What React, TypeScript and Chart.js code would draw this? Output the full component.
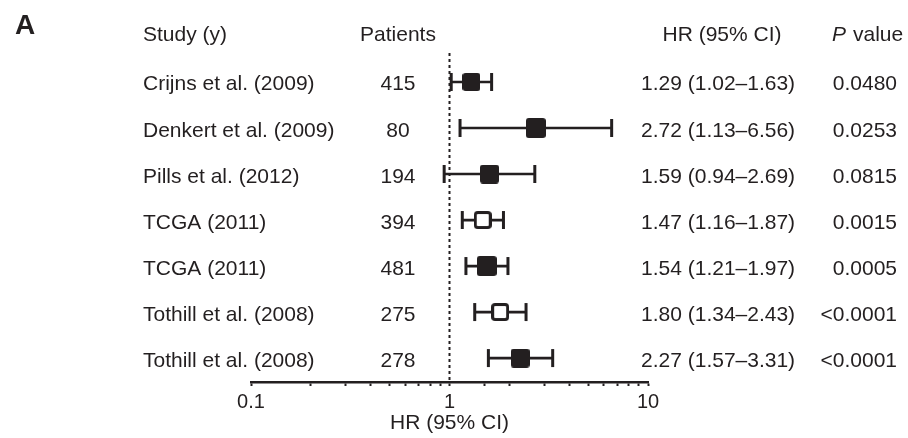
import React, { useEffect, useRef } from "react";
import { Chart, registerables } from "chart.js";

Chart.register(...registerables);

const studies = [
  "Crijns et al. (2009)",
  "Denkert et al. (2009)",
  "Pills et al. (2012)",
  "TCGA (2011)",
  "TCGA (2011)",
  "Tothill et al. (2008)",
  "Tothill et al. (2008)",
];
const patients = [415, 80, 194, 394, 481, 275, 278];
const hr = [1.29, 2.72, 1.59, 1.47, 1.54, 1.8, 2.27];
const ciLow = [1.02, 1.13, 0.94, 1.16, 1.21, 1.34, 1.57];
const ciHigh = [1.63, 6.56, 2.69, 1.87, 1.97, 2.43, 3.31];
const pValues = ["0.0480", "0.0253", "0.0815", "0.0015", "0.0005", "<0.0001", "<0.0001"];
const filledMarker = [true, true, true, false, true, false, true];
const xTickLabels = [0.1, 1, 10];

// styling
const markerSizes = [18, 20, 19, 18, 20, 18, 19];
const INK = "#231f20";
const FONT = "'Liberation Sans', Arial, Helvetica, sans-serif";

function makeMarker(size: number, filled: boolean): HTMLCanvasElement {
  const c = document.createElement("canvas");
  c.width = size;
  c.height = size;
  const g = c.getContext("2d")!;
  if (filled) {
    g.fillStyle = INK;
    g.beginPath();
    (g as any).roundRect(0, 0, size, size, 3);
    g.fill();
  } else {
    const lw = 3;
    g.fillStyle = "#ffffff";
    g.strokeStyle = INK;
    g.lineWidth = lw;
    g.beginPath();
    (g as any).roundRect(lw / 2, lw / 2, size - lw, size - lw, 2.5);
    g.fill();
    g.stroke();
  }
  return c;
}

const textPlugin = {
  id: "forestText",
  afterDraw(chart: any) {
    const ctx = chart.ctx as CanvasRenderingContext2D;
    const y = chart.scales.y;
    ctx.save();
    ctx.fillStyle = INK;
    ctx.textBaseline = "alphabetic";
    // panel letter
    ctx.font = `bold 28px ${FONT}`;
    ctx.textAlign = "left";
    ctx.fillText("A", 15, 34);
    // header
    const hy = 40.5;
    ctx.font = `21px ${FONT}`;
    ctx.textAlign = "left";
    ctx.fillText("Study (y)", 143, hy);
    ctx.textAlign = "center";
    ctx.fillText("Patients", 398, hy);
    ctx.fillText("HR (95% CI)", 722, hy);
    ctx.textAlign = "left";
    ctx.font = `italic 21px ${FONT}`;
    ctx.fillText("P", 832, hy);
    const pw = ctx.measureText("P").width;
    ctx.font = `21px ${FONT}`;
    ctx.fillText("value", 832 + pw + 7, hy);
    // rows
    for (let i = 0; i < studies.length; i++) {
      const py = y.getPixelForValue(i + 1) + 8.5;
      ctx.textAlign = "left";
      ctx.fillText(studies[i], 143, py);
      ctx.textAlign = "center";
      ctx.fillText(String(patients[i]), 398, py);
      ctx.textAlign = "left";
      ctx.fillText(
        `${hr[i].toFixed(2)} (${ciLow[i].toFixed(2)}\u2013${ciHigh[i].toFixed(2)})`,
        641,
        py
      );
      ctx.textAlign = "right";
      ctx.fillText(pValues[i], 897, py);
    }
    ctx.restore();
  },
};

export default function App() {
  const ref = useRef<HTMLCanvasElement>(null);
  useEffect(() => {
    const markers = hr.map((_, i) => makeMarker(markerSizes[i], filledMarker[i]));
    const ciSets = hr.map((_, i) => ({
      type: "line" as const,
      data: [
        { x: ciLow[i], y: i + 1 },
        { x: ciHigh[i], y: i + 1 },
      ],
      borderColor: INK,
      borderWidth: 2.7,
      pointStyle: "line" as const,
      pointRotation: 90,
      pointRadius: 9,
      pointBorderWidth: 3,
      pointBorderColor: INK,
      pointBackgroundColor: INK,
      order: 1,
    }));
    const chart = new Chart(ref.current!, {
      type: "scatter",
      data: {
        datasets: [
          {
            type: "scatter",
            data: hr.map((v, i) => ({ x: v, y: i + 1 })),
            pointStyle: (c: any) => markers[c.dataIndex],
            pointRadius: 10,
            order: 0,
          } as any,
          ...ciSets,
          {
            type: "line",
            data: [
              { x: 1, y: 0.37 },
              { x: 1, y: 7.52 },
            ],
            borderColor: INK,
            borderWidth: 2,
            borderDash: [3, 3],
            pointRadius: 0,
            order: 2,
          },
        ],
      },
      options: {
        responsive: false,
        animation: false,
        devicePixelRatio: 1,
        layout: { padding: { left: 251, right: 260, top: 53, bottom: 0 } },
        plugins: { legend: { display: false }, tooltip: { enabled: false } },
        scales: {
          x: {
            type: "logarithmic",
            min: 0.1,
            max: 10,
            afterFit: (s: any) => {
              s.height = 56;
            },
            border: { display: true, color: INK, width: 2.5 },
            grid: {
              drawOnChartArea: false,
              drawTicks: true,
              tickLength: 4,
              tickWidth: 2,
              tickColor: INK,
            },
            ticks: {
              autoSkip: false,
              maxRotation: 0,
              padding: 4,
              color: INK,
              font: { family: FONT, size: 20 },
              callback: (v: any) => {
                const n = Number(v);
                return xTickLabels.some((t) => Math.abs(t - n) < 1e-9) ? String(n) : "";
              },
            },
            title: {
              display: true,
              text: "HR (95% CI)",
              color: INK,
              font: { family: FONT, size: 21 },
              padding: { top: 0, bottom: 2 },
            },
          },
          y: {
            type: "linear",
            display: false,
            reverse: true,
            min: 0.37,
            max: 7.52,
          },
        },
      },
      plugins: [textPlugin],
    } as any);
    return () => chart.destroy();
  }, []);
  return (
    <div style={{ position: "absolute", left: 0, top: 0, width: 908, height: 438, background: "#fff" }}>
      <canvas ref={ref} width={908} height={438} />
    </div>
  );
}
